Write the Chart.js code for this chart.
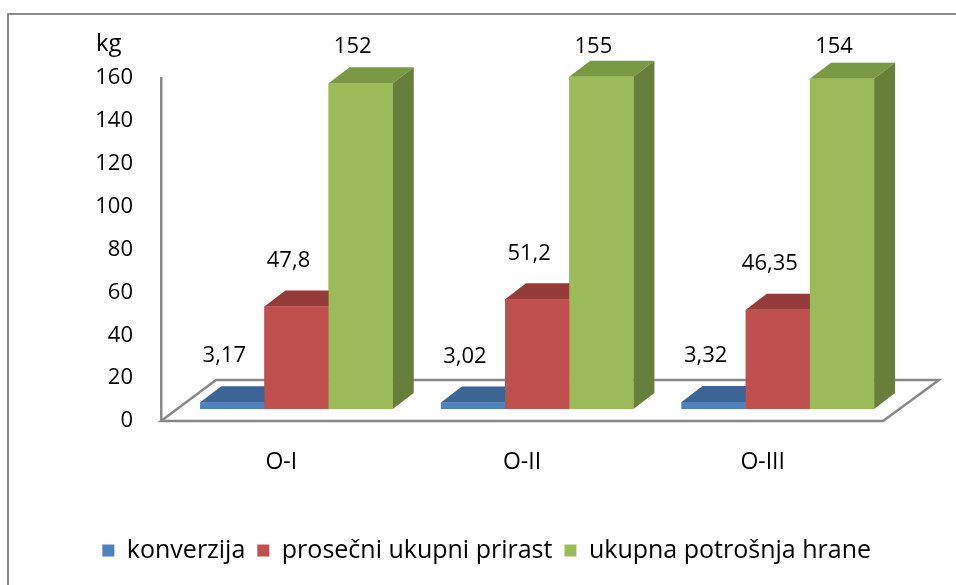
<!DOCTYPE html>
<html>
<head>
<meta charset="utf-8">
<script src="https://cdn.jsdelivr.net/npm/chart.js@4/dist/chart.umd.min.js"></script>
<style>
  html, body { margin:0; padding:0; background:#fff; overflow:hidden; }
  #frame { position:absolute; left:7px; top:13px; width:980px; height:600px; border:2px solid #898989; box-sizing:border-box; }
  #wrap { position:absolute; left:0; top:0; width:956px; height:585px; }
</style>
</head>
<body>
<div id="frame"></div>
<div id="wrap"><canvas id="c"></canvas></div>
<script>
const categories = ['O-I', 'O-II', 'O-III'];
const seriesNames = ['konverzija', 'prosečni ukupni prirast', 'ukupna potrošnja hrane'];
const konverzija = [3.17, 3.02, 3.32];
const prirast = [47.8, 51.2, 46.35];
const potrosnja = [152, 155, 154];
const yTicks = [0, 20, 40, 60, 80, 100, 120, 140, 160];
const unitLabel = 'kg';

const fronts = ['#4F81BD', '#C0504D', '#9BBB59'];
const tops   = ['#3C6595', '#953C3A', '#7A9944'];
const sides  = ['#34577F', '#7F3331', '#677F3A'];
const FONT = "'Open Sans', 'DejaVu Sans', sans-serif";

function pts(vals){ return vals.map((v, i) => ({ x: i, y: v })); }
function fmt(v){ return String(v).replace('.', ','); }

const bar3d = {
  id: 'bar3d',
  beforeDatasetsDraw(chart){
    const { ctx } = chart;
    const x = chart.scales.x, y = chart.scales.y;
    const y0 = y.getPixelForValue(0);
    ctx.save();
    ctx.strokeStyle = '#898989';
    ctx.lineWidth = 2.5;
    ctx.beginPath();
    ctx.moveTo(x.left, y0);
    ctx.lineTo(x.right, y0);
    ctx.lineTo(x.right + 56, y0 - 41);
    ctx.lineTo(x.left + 55, y0 - 41);
    ctx.closePath();
    ctx.stroke();
    ctx.restore();
  },
  afterDatasetsDraw(chart){
    const { ctx } = chart;
    const dx = 21, dy = -16;
    ctx.save();
    chart.data.datasets.forEach((ds, i) => {
      chart.getDatasetMeta(i).data.forEach(el => {
        const { x, y, base, width } = el.getProps(['x', 'y', 'base', 'width'], true);
        const l = x - width / 2, r = x + width / 2;
        ctx.fillStyle = tops[i];
        ctx.beginPath();
        ctx.moveTo(l, y); ctx.lineTo(r, y); ctx.lineTo(r + dx, y + dy); ctx.lineTo(l + dx, y + dy);
        ctx.closePath(); ctx.fill();
        ctx.fillStyle = sides[i];
        ctx.beginPath();
        ctx.moveTo(r, y); ctx.lineTo(r + dx, y + dy); ctx.lineTo(r + dx, base + dy); ctx.lineTo(r, base);
        ctx.closePath(); ctx.fill();
        el.draw(ctx);
      });
    });
    // data labels
    ctx.fillStyle = '#000';
    ctx.font = '22px ' + FONT;
    ctx.textAlign = 'center';
    ctx.textBaseline = 'middle';
    const minY = chart.chartArea.top - 31;
    chart.data.datasets.forEach((ds, i) => {
      chart.getDatasetMeta(i).data.forEach((el, j) => {
        ctx.fillText(fmt(ds.data[j].y), el.x - 8, Math.max(el.y - 46, minY));
      });
    });
    ctx.restore();
  },
  afterDraw(chart){
    const { ctx } = chart;
    ctx.save();
    ctx.fillStyle = '#000';
    ctx.font = '24px ' + FONT;
    ctx.textAlign = 'left';
    ctx.textBaseline = 'middle';
    ctx.fillText(unitLabel, 96, 44);
    ctx.restore();
  }
};

Chart.defaults.color = '#000';
Chart.defaults.font.family = FONT;

new Chart(document.getElementById('c'), {
  type: 'bar',
  data: {
    labels: categories,
    datasets: [konverzija, prirast, potrosnja].map((vals, i) => ({
      label: seriesNames[i],
      data: pts(vals),
      backgroundColor: fronts[i],
      borderWidth: 0,
      xAxisID: 'xb',
      yAxisID: 'yb',
      categoryPercentage: 0.8,
      barPercentage: 1.0,
      clip: false
    }))
  },
  options: {
    responsive: true,
    maintainAspectRatio: false,
    animation: false,
    layout: { padding: { top: 78, right: 73, bottom: 12, left: 0 } },
    plugins: {
      tooltip: { enabled: false },
      legend: {
        position: 'bottom',
        align: 'end',
        labels: { boxWidth: 12, boxHeight: 12, padding: 12, font: { size: 25 } }
      }
    },
    scales: {
      x: {
        type: 'category',
        offset: true,
        grid: { display: false, drawTicks: false },
        border: { display: false },
        ticks: { font: { size: 23 }, padding: 28 },
        afterFit: s => { s.height = 105; }
      },
      y: {
        min: 0, max: 160,
        afterBuildTicks: s => { s.ticks = yTicks.map(v => ({ value: v })); },
        grid: { display: false, drawTicks: false },
        border: { display: true, color: '#898989', width: 2.5 },
        ticks: { font: { size: 22 }, padding: 28 },
        afterFit: s => { s.width = 161; }
      },
      xb: {
        type: 'linear', display: false, min: -0.563, max: 2.437, offset: false,
        afterBuildTicks: s => { s.ticks = categories.map((c, i) => ({ value: i })); }
      },
      yb: { type: 'linear', display: false, min: -5.6, max: 154.4 }
    }
  },
  plugins: [bar3d]
});
</script>
</body>
</html>
